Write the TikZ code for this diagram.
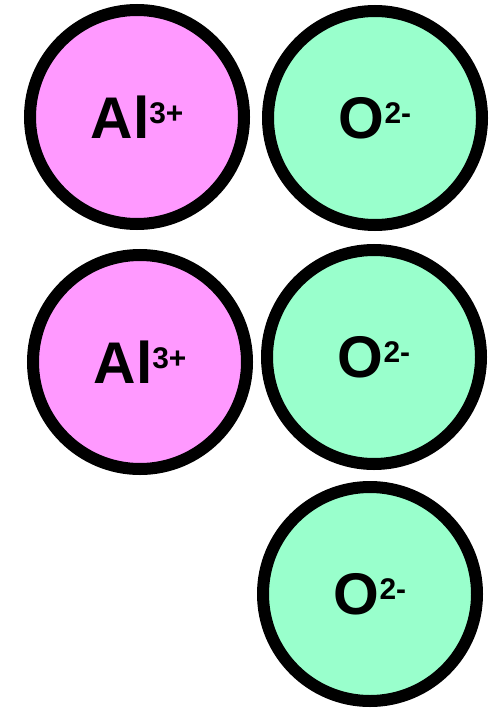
\documentclass[tikz,border=0pt]{standalone}
\usepackage{fontspec}
\setmainfont{Liberation Sans}
\usepackage{xcolor}
\usetikzlibrary{positioning}

\definecolor{alpink}{RGB}{255,153,255}
\definecolor{ogreen}{RGB}{153,255,204}

\newcommand{\ionlabel}[2]{#1\raisebox{15bp}{\fontsize{30}{30}\selectfont #2}}

\tikzset{
  ion/.style={circle,draw=black,line width=12bp,minimum size=214bp,inner sep=0pt,
    font=\fontsize{59}{59}\selectfont\bfseries},
  cation/.style={ion,fill=alpink},
  anion/.style={ion,fill=ogreen}
}

\begin{document}
\begin{tikzpicture}[x=1bp,y=-1bp]
    \fill[white] (0,0) rectangle (489,710);
    \useasboundingbox (0,0) rectangle (489,710);
    % top row
    \node[cation] (al1) at (137,117) {\ionlabel{Al}{3+}};
    \node[anion] (o1) at (375,118) {\ionlabel{O}{2-}};
    % middle row
    \node[cation] (al2) at (140,362) {\ionlabel{Al}{3+}};
    \node[anion] (o2) at (374,357) {\ionlabel{O}{2-}};
    % bottom
    \node[anion] (o3) at (370,594) {\ionlabel{O}{2-}};
  \end{tikzpicture}
\end{document}
